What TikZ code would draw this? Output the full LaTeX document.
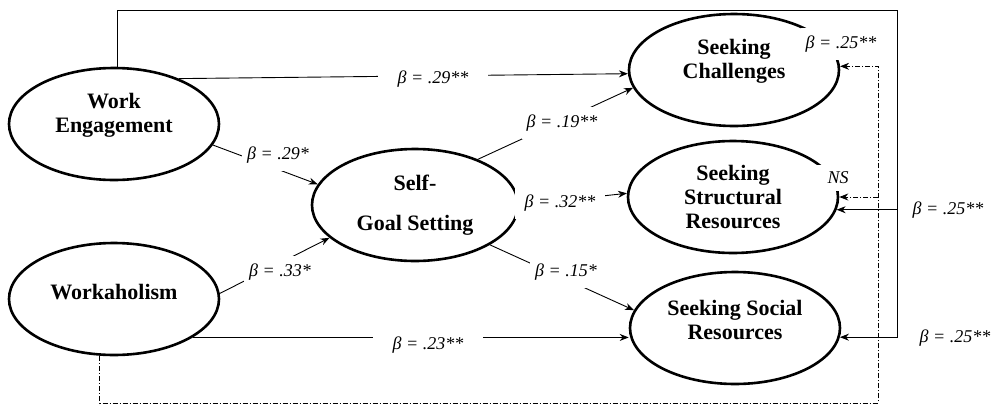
\documentclass[tikz,border=0pt]{standalone}
\usepackage{fontspec}
\setmainfont{Liberation Serif}
\usetikzlibrary{shapes.geometric,arrows.meta}

\begin{document}
\begin{tikzpicture}[x=1pt,y=-1pt]
	\tikzstyle{latent}=[draw,ellipse,line width=2.6pt,minimum width=210pt,minimum height=112pt,inner sep=0pt,align=center,font=\bfseries\fontsize{22}{24}\selectfont]
	\tikzstyle{effect}=[line width=0.9pt,-{Stealth[length=9pt,width=7pt]}]
	\tikzstyle{indirect}=[effect,dash pattern=on 5pt off 2pt on 1pt off 2pt]
	\tikzstyle{coef}=[fill=white,inner xsep=5pt,inner ysep=8pt,font=\itshape\fontsize{18}{20}\selectfont]
	\useasboundingbox (0,0) rectangle (994,405);
	
	\node[latent,text depth=22pt] (we) at (114,124) {Work\\Engagement};
	\node[latent,text depth=14pt] (wk) at (114,299) {Workaholism};
	\node[latent,minimum width=206pt] (sgs) at (415,205) {Self-\\[16pt]Goal Setting};
	\node[latent,text depth=22pt] (sc) at (734,70) {Seeking\\Challenges};
	\node[latent] (ssr) at (733,197) {Seeking\\Structural\\Resources};
	\node[latent,text depth=16pt] (ssoc) at (735,328) {Seeking Social\\Resources};
	
	\coordinate (tr) at (897,10);
	\coordinate (br) at (878,403);
	
	\draw[effect] (we.35) -- (sc.182);
	\draw[effect] (we.-12) -- (sgs.168);
	\draw[effect] (wk.3) -- (sgs.201);
	\draw[effect] (wk.-26) -- (wk.-26 -| ssoc.west);
	\draw[effect] (sgs.36) -- (sc.190);
	\draw[effect] (sgs.east) -- (ssr.178);
	\draw[effect] (sgs.-28) -- (ssoc.170);
	\draw[effect] (we.87) |- (tr) |- (ssoc.-5);
	\draw[effect] (ssr.-7 -| tr) -- (ssr.-7);
	\draw[indirect] (wk.256) |- (br) |- (sc.2);
	\draw[indirect] (ssr.east -| br) -- (ssr.east);
	
	\node[coef,inner xsep=20pt] (l1) at (433,79) {β = .29**};
	\node[coef] (l2) at (278,155) {β = .29*};
	\node[coef] (l3) at (280,272) {β = .33*};
	\node[coef,inner xsep=20pt] (l4) at (428,345) {β = .23**};
	\node[coef] (l5) at (562,123) {β = .19**};
	\node[coef,inner xsep=10pt] (l6) at (560,203) {β = .32**};
	\node[coef] (l7) at (566,272) {β = .15*};
	\node[coef] (l8) at (841,44) {β = .25**};
	\node[coef,inner xsep=15pt,inner ysep=7pt] (l9) at (838,178) {NS};
	\node[coef] (l10) at (948,210) {β = .25**};
	\node[coef] (l11) at (955,338) {β = .25**};
\end{tikzpicture}
\end{document}
